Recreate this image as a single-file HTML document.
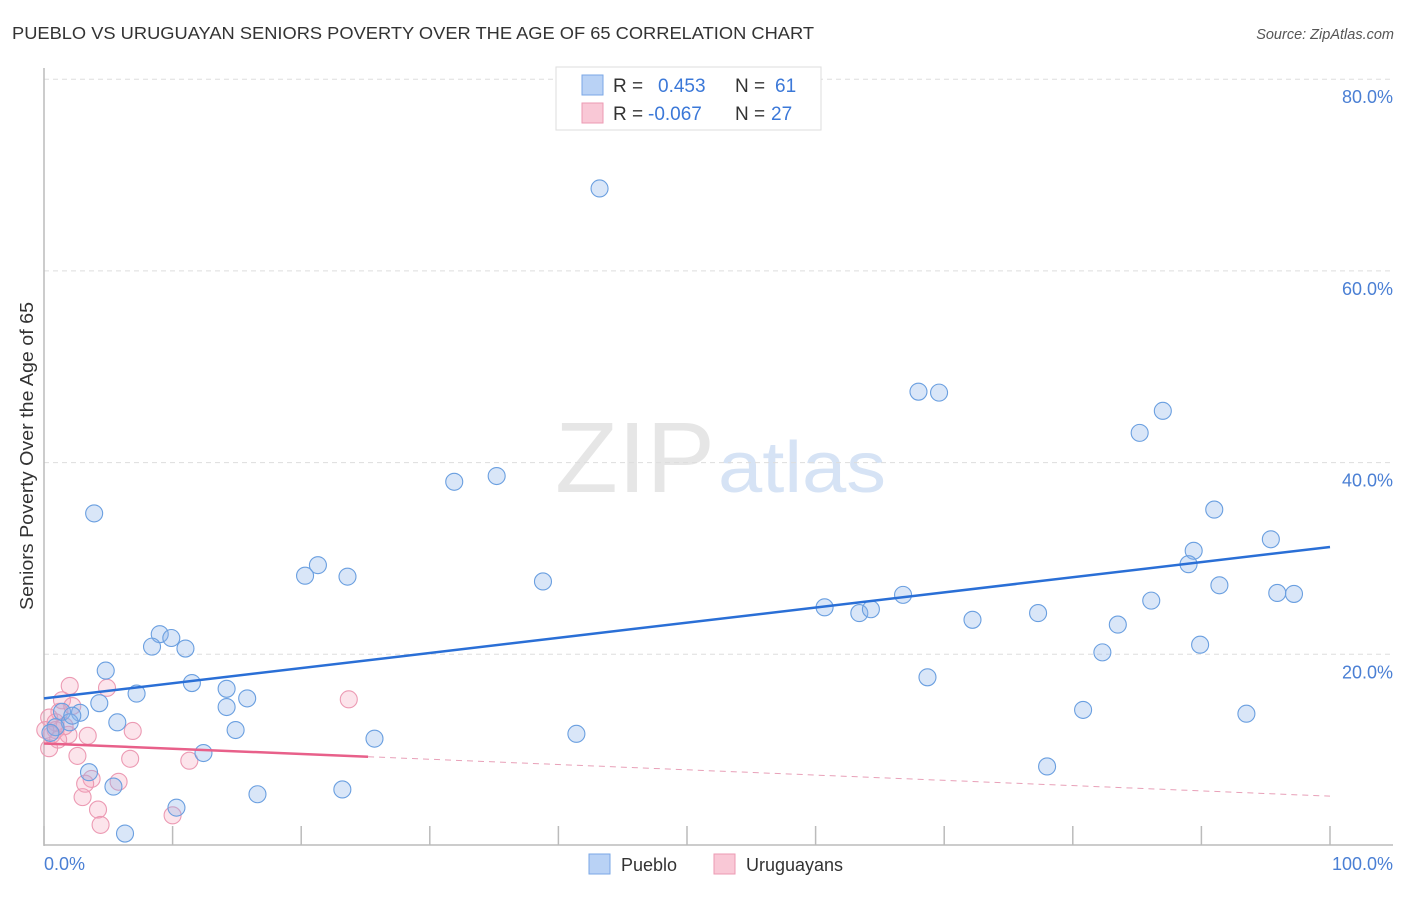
<!DOCTYPE html>
<html><head><meta charset="utf-8"><style>
body{margin:0;background:#fff;font-family:"Liberation Sans",sans-serif;}
svg text{font-family:"Liberation Sans",sans-serif;}
</style></head><body>
<svg id="chart" width="1406" height="892" viewBox="0 0 1406 892">
<text x="12" y="39" font-size="17.5" fill="#333" textLength="802" lengthAdjust="spacingAndGlyphs">PUEBLO VS URUGUAYAN SENIORS POVERTY OVER THE AGE OF 65 CORRELATION CHART</text>
<text x="1394" y="39" font-size="14.5" fill="#555" font-style="italic" text-anchor="end">Source: ZipAtlas.com</text>
<text x="555" y="492" font-size="100" fill="#e6e6e6" textLength="160" lengthAdjust="spacingAndGlyphs" font-family="Liberation Serif">ZIP</text>
<text x="718" y="492" font-size="72" fill="#d6e3f5" textLength="168" lengthAdjust="spacingAndGlyphs">atlas</text>
<g id="grid"></g>
<g id="axes"></g>
<g id="pts"></g>
<g id="trend"></g>
<text transform="translate(33,456) rotate(-90)" font-size="18" fill="#333" text-anchor="middle" textLength="308" lengthAdjust="spacingAndGlyphs">Seniors Poverty Over the Age of 65</text>
<text x="44" y="870" font-size="18" fill="#4a7fd4">0.0%</text>
<text x="1393" y="870" font-size="18" fill="#4a7fd4" text-anchor="end">100.0%</text>
<g>
<rect x="556" y="67" width="265" height="63" fill="#fff" stroke="#ddd"/>
<rect x="582" y="75" width="21" height="20" fill="#b9d2f5" stroke="#7aa7e6"/>
<rect x="582" y="103" width="21" height="20" fill="#f9c8d6" stroke="#ec9ab3"/>
<text x="613" y="92" font-size="19" fill="#333">R =</text>
<text x="658" y="92" font-size="19" fill="#3b78d8">0.453</text>
<text x="735" y="92" font-size="19" fill="#333">N =</text>
<text x="775" y="92" font-size="19" fill="#3b78d8">61</text>
<text x="613" y="120" font-size="19" fill="#333">R =</text>
<text x="648" y="120" font-size="19" fill="#3b78d8">-0.067</text>
<text x="735" y="120" font-size="19" fill="#333">N =</text>
<text x="771" y="120" font-size="19" fill="#3b78d8">27</text>
</g>
<g>
<rect x="589" y="854" width="21" height="20" fill="#b9d2f5" stroke="#7aa7e6"/>
<text x="621" y="871" font-size="18" fill="#333">Pueblo</text>
</g>
<g>
<rect x="714" y="854" width="21" height="20" fill="#f9c8d6" stroke="#ec9ab3"/>
<text x="746" y="871" font-size="18" fill="#333">Uruguayans</text>
</g>
</svg>
<script>
const yTicks=[20,40,60,80];
const xTickCount=[0,10,20,30,40,50,60,70,80,90,100];
const puebloX=[3.9,43.2,68.0,69.6,87.0,85.2,31.9,35.2,91.0,95.4,89.4,89.0,91.4,95.9,97.2,38.8,20.3,21.3,23.6,66.8,60.7,63.4,64.3,72.2,77.3,86.1,83.5,82.3,89.9,68.7,80.8,93.5,78.0,9.0,9.9,8.4,11.0,4.8,11.5,7.2,14.2,15.8,4.3,14.2,5.7,14.9,25.7,41.4,12.4,3.5,5.4,10.3,16.6,23.2,6.3,2.8,1.4,2.0,0.9,0.5,2.2];
const puebloY=[34.7,68.6,47.4,47.3,45.4,43.1,38.0,38.6,35.1,32.0,30.8,29.4,27.2,26.4,26.3,27.6,28.2,29.3,28.1,26.2,24.9,24.3,24.7,23.6,24.3,25.6,23.1,20.2,21.0,17.6,14.2,13.8,8.3,22.1,21.7,20.8,20.6,18.3,17.0,15.9,16.4,15.4,14.9,14.5,12.9,12.1,11.2,11.7,9.7,7.7,6.2,4.0,5.4,5.9,1.3,13.9,14.0,12.9,12.4,11.8,13.6];
const uruX=[2.0,4.9,1.4,1.2,2.2,0.4,0.9,1.9,3.4,6.9,0.4,2.6,6.7,11.3,3.7,3.2,5.8,3.0,4.2,4.4,10.0,23.7,0.9,0.6,1.6,1.1,0.1];
const uruY=[16.7,16.5,15.2,14.0,14.6,13.4,12.9,11.6,11.5,12.0,10.2,9.4,9.1,8.9,7.0,6.5,6.7,5.1,3.8,2.2,3.2,15.3,12.1,11.6,12.5,11.1,12.1];
const puebloTrend=[15.4,31.2];
const uruTrend=[10.7,5.2];
const uruSolidEnd=25.2;
const NS='http://www.w3.org/2000/svg';
const X=v=>44+v*12.86, Y=v=>846-v*9.585;
function mk(tag,parent,attrs){const e=document.createElementNS(NS,tag);for(const k in attrs)e.setAttribute(k,attrs[k]);document.getElementById(parent).appendChild(e);return e;}
yTicks.forEach(t=>{
 const g=mk('line','grid',{x1:44,x2:1393,y1:Y(t),y2:Y(t),stroke:'#ddd','stroke-dasharray':'5,4'});
 
 
 const l=mk('text','grid',{x:1393,y:Y(t)+24,'font-size':18,fill:'#4a7fd4','text-anchor':'end'});
 l.textContent=t.toFixed(1)+'%';
 
 
});
const ya=mk('line','axes',{x1:44,x2:44,y1:68,y2:846,stroke:'#bbb','stroke-width':1.5});


const xa=mk('line','axes',{x1:44,x2:1393,y1:845,y2:845,stroke:'#bbb','stroke-width':1.5});


xTickCount.forEach(t=>{
 const k=mk('line','axes',{x1:X(t),x2:X(t),y1:826,y2:845,stroke:'#bbb','stroke-width':1.5});
 
 
});
uruX.forEach((x,i)=>{
 const c=mk('circle','pts',{cx:X(x),cy:Y(uruY[i]),r:8.5,fill:'rgba(244,165,190,0.3)',stroke:'#ec9ab3','stroke-width':1.1});
 
 
});
puebloX.forEach((x,i)=>{
 const c=mk('circle','pts',{cx:X(x),cy:Y(puebloY[i]),r:8.5,fill:'rgba(140,180,235,0.33)',stroke:'#6a9fe0','stroke-width':1.1});
 
 
});
const bt=mk('line','trend',{x1:X(0),y1:Y(puebloTrend[0]),x2:X(100),y2:Y(puebloTrend[1]),stroke:'#2a6fd6','stroke-width':2.5});


const ue=uruTrend[0]+(uruTrend[1]-uruTrend[0])*uruSolidEnd/100;
const pt=mk('line','trend',{x1:X(0),y1:Y(uruTrend[0]),x2:X(uruSolidEnd),y2:Y(ue),stroke:'#e8608a','stroke-width':2.5});


const pd=mk('line','trend',{x1:X(uruSolidEnd),y1:Y(ue),x2:X(100),y2:Y(uruTrend[1]),stroke:'#e8a0b8','stroke-width':1,'stroke-dasharray':'6,5'});


</script>
</body></html>
